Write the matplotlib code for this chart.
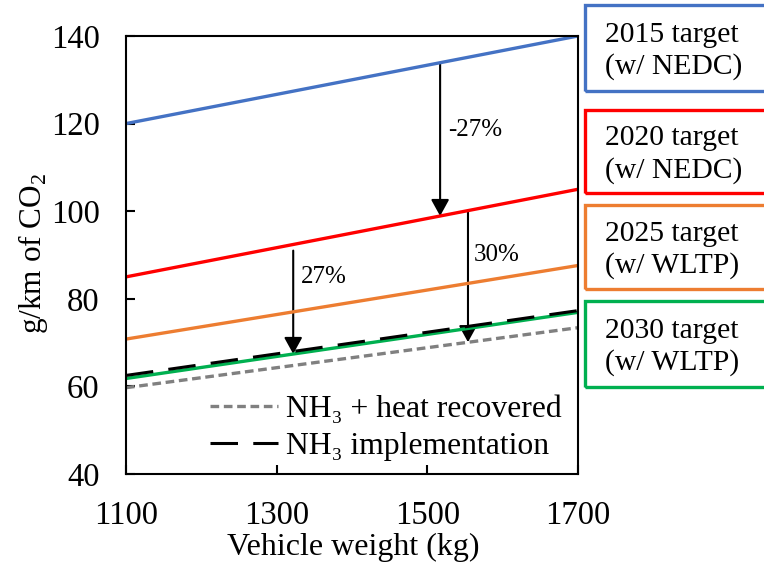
import matplotlib

matplotlib.use("Agg")
import matplotlib.pyplot as plt  # noqa: E402
from matplotlib.patches import FancyArrowPatch, Rectangle  # noqa: E402

plt.rcParams["font.family"] = ["Liberation Serif", "DejaVu Serif"]
plt.rcParams["mathtext.fontset"] = "custom"
plt.rcParams["mathtext.rm"] = "Liberation Serif"

# CO2 target lines over vehicle weight (end points at 1100 and 1700 kg)
weight = [1100, 1700]
target_2015 = [120.0, 140.0]
target_2020 = [85.0, 105.0]
target_2025 = [70.8, 87.6]
target_2030 = [61.8, 76.9]
nh3_impl = [62.5, 77.3]
nh3_heat = [59.7, 73.4]

target_labels = ["2015 target\n(w/ NEDC)", "2020 target\n(w/ NEDC)",
                 "2025 target\n(w/ WLTP)", "2030 target\n(w/ WLTP)"]
target_colors = ["#4472C4", "#FF0000", "#ED7D31", "#00B050"]

# reduction arrows: (x, y_start, y_end, label, label_x, label_y)
arrows = [
    (1517, 133.9, 98.9, "-27%", 1528, 118.5),
    (1322, 91.0, 67.4, "27%", 1332, 85.0),
    (1554, 100.0, 70.1, "30%", 1562, 90.0),
]

xticks = [1100, 1300, 1500, 1700]
yticks = [40, 60, 80, 100, 120, 140]

W, H = 764, 565
fig = plt.figure(figsize=(W / 100, H / 100), dpi=100)
ax = fig.add_axes([0.1649, 0.1611, 0.5916, 0.7752])

lw = 2.4
ax.plot(weight, target_2015, color=target_colors[0], lw=lw)
ax.plot(weight, target_2020, color=target_colors[1], lw=lw)
ax.plot(weight, target_2025, color=target_colors[2], lw=lw)
ax.plot(weight, nh3_heat, color="#808080", lw=2.4, ls=(0, (2.6, 1.4)),
        label="NH\u2083 + heat recovered")
ax.plot(weight, target_2030, color=target_colors[3], lw=lw)
ax.plot(weight, nh3_impl, color="black", lw=2.2, ls=(0, (9, 5)),
        label="NH\u2083 implementation")

for x, y0, y1, txt, tx, ty in arrows:
    arr = FancyArrowPatch((x, y0), (x, y1), arrowstyle="-|>,head_length=1.0,head_width=0.55",
                          mutation_scale=10, color="black", lw=1.5,
                          shrinkA=0, shrinkB=0)
    ax.add_patch(arr)
    ax.text(tx, ty, txt, fontsize=18, ha="left", va="center")

ax.set_xlim(1100, 1700)
ax.set_ylim(40, 140)
ax.set_xticks(xticks)
ax.set_yticks(yticks)
ax.tick_params(direction="in", length=6.5, width=1.5, labelsize=23.5)
ax.tick_params(axis="y", pad=19)
ax.tick_params(axis="x", pad=19)
for s in ax.spines.values():
    s.set_linewidth(1.5)

fig.text(353 / W, 1 - 547 / H, "Vehicle weight (kg)", fontsize=23,
         ha="center", va="center")
fig.text(33 / W, 1 - 253 / H, "g/km of CO$_2$", fontsize=22.5,
         ha="center", va="center", rotation=90)

ax.legend(loc="lower left", bbox_to_anchor=(0.185, 0.03), frameon=False,
          fontsize=22.8, handlelength=2.15, handletextpad=0.25,
          labelspacing=0.25, borderaxespad=0, borderpad=0)

# labelled boxes on the right, clipped by the figure edge
box_tops = [5, 110, 205, 301]
box_bottoms = [91, 193, 289, 387]
for lab, col, top, bot in zip(target_labels, target_colors, box_tops, box_bottoms):
    rect = Rectangle((585 / W, 1 - bot / H), 200 / W, (bot - top) / H,
                     transform=fig.transFigure, fill=False, edgecolor=col,
                     lw=2.4, clip_on=False)
    fig.patches.append(rect)
    fig.text(605 / W, 1 - ((top + bot) / 2 + 3) / H, lab, fontsize=21.3,
             ha="left", va="center", linespacing=1.25)

fig.savefig("out.png", dpi=100)
